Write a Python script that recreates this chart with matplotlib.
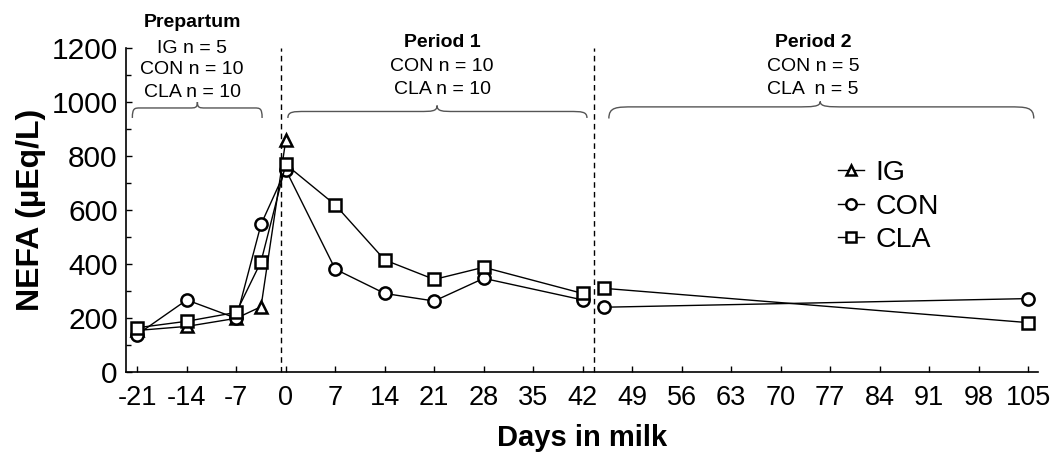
import matplotlib
matplotlib.use("Agg")
import matplotlib.pyplot as plt
from matplotlib.path import Path
from matplotlib.patches import PathPatch
from matplotlib.ticker import MultipleLocator

plt.rcParams['font.family'] = ['Liberation Sans', 'DejaVu Sans']
plt.rcParams['axes.unicode_minus'] = False

# NEFA (µEq/L) by days in milk
days_pre = [-21, -14, -7, -3.5, 0]
ig = [155, 170, 200, 243, 860]

days_p1 = [-21, -14, -7, -3.5, 0, 7, 14, 21, 28, 42]
con_p1 = [140, 268, 200, 548, 750, 382, 292, 264, 348, 268]
cla_p1 = [165, 189, 222, 410, 770, 620, 416, 344, 389, 292]

days_p2 = [45, 105]
con_p2 = [241, 273]
cla_p2 = [311, 184]

xticks = list(range(-21, 106, 7))
yticks = list(range(0, 1201, 200))

W, H = 1055, 453
fig = plt.figure(figsize=(W / 100, H / 100), dpi=100)
ax = fig.add_axes([126 / W, 1 - 372.3 / H, (1038 - 126) / W, (372.3 - 48.3) / H])

mk = dict(markerfacecolor='white', markeredgecolor='black', markeredgewidth=1.8,
          markersize=8.8, color='black', linewidth=1.0)

ax.plot(days_pre, ig, marker='^', label='IG', zorder=3, **mk)
ax.plot(days_p1, con_p1, marker='o', label='CON', zorder=4, **mk)
ax.plot(days_p1, cla_p1, marker='s', label='CLA', zorder=5, **mk)
ax.plot(days_p2, con_p2, marker='o', zorder=4, **mk)
ax.plot(days_p2, cla_p2, marker='s', zorder=5, **mk)

# period separators
for xv in (-0.7, 43.6):
    ax.plot([xv, xv], [0, 1200], color='black', lw=1.0, ls=(0, (4, 3)), zorder=2,
            clip_on=False)

ax.set_xlim(-22.6, 106.4)
ax.set_ylim(0, 1200)
ax.set_xticks(xticks)
ax.set_yticks(yticks)
ax.yaxis.set_minor_locator(MultipleLocator(100))
ax.tick_params(axis='both', which='both', direction='in', width=1.0)
ax.tick_params(axis='both', which='major', length=4)
ax.tick_params(axis='y', which='minor', length=3.5)
ax.tick_params(axis='x', labelsize=19.5, pad=9)
ax.tick_params(axis='y', labelsize=21.5, pad=6)
for s in ('top', 'right'):
    ax.spines[s].set_visible(False)
for s in ('left', 'bottom'):
    ax.spines[s].set_linewidth(1.2)

ax.set_xlabel('Days in milk', fontsize=21, fontweight='bold', labelpad=9.5)
ax.set_ylabel('NEFA (µEq/L)', fontsize=23, fontweight='bold', labelpad=4)


def brace(x0, x1, xm, y_end, y_flat, y_tip):
    """Horizontal curly brace opening downward, tip pointing up at xm."""
    r = (x1 - x0) * 0.06
    verts = [
        (x0, y_end),
        (x0, y_flat), (x0 + r * 0.3, y_flat), (x0 + r, y_flat),
        (xm - r, y_flat),
        (xm - r * 0.3, y_flat), (xm, y_flat), (xm, y_tip),
        (xm, y_flat), (xm + r * 0.3, y_flat), (xm + r, y_flat),
        (x1 - r, y_flat),
        (x1 - r * 0.3, y_flat), (x1, y_flat), (x1, y_end),
    ]
    codes = [Path.MOVETO,
             Path.CURVE4, Path.CURVE4, Path.CURVE4,
             Path.LINETO,
             Path.CURVE4, Path.CURVE4, Path.CURVE4,
             Path.CURVE4, Path.CURVE4, Path.CURVE4,
             Path.LINETO,
             Path.CURVE4, Path.CURVE4, Path.CURVE4]
    ax.add_patch(PathPatch(Path(verts, codes), facecolor='none',
                           edgecolor='#555555', lw=1.0, clip_on=False))


brace(-21.7, -3.35, -12.5, 942, 979, 1001)
brace(0.3, 42.6, 21.4, 942, 966, 988)
brace(45.7, 105.8, 75.6, 940, 983, 1003)

txt = dict(ha='center', va='center', fontsize=14, clip_on=False)
ax.text(-13.25, 1294, 'Prepartum', fontweight='bold', **txt)
ax.text(-13.25, 1201, 'IG n = 5', **txt)
ax.text(-13.25, 1120, 'CON n = 10', **txt)
ax.text(-13.25, 1038, 'CLA n = 10', **txt)

ax.text(22.1, 1220, 'Period 1', fontweight='bold', **txt)
ax.text(22.1, 1131, 'CON n = 10', **txt)
ax.text(22.1, 1049, 'CLA n = 10', **txt)

ax.text(74.6, 1223, 'Period 2', fontweight='bold', **txt)
ax.text(74.6, 1131, 'CON n = 5', **txt)
ax.text(74.6, 1049, 'CLA  n = 5', **txt)

ax.legend(loc='upper left', bbox_to_anchor=(838 / W, 1 - 160 / H),
          bbox_transform=fig.transFigure, frameon=False, fontsize=20.5,
          handlelength=0.9, handletextpad=0.4, labelspacing=0.27,
          borderpad=0, borderaxespad=0, markerscale=0.85)

fig.savefig('out.png', dpi=100)
